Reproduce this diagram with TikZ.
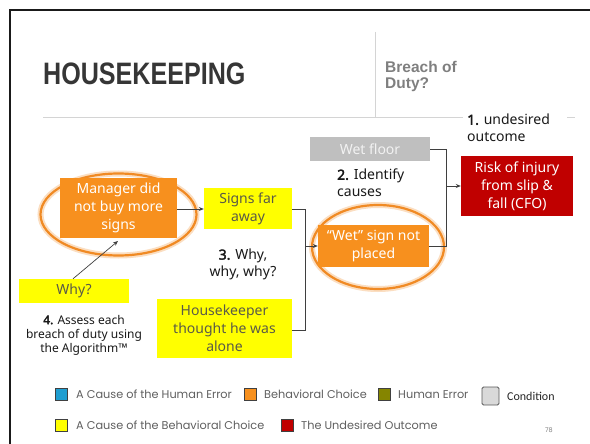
\documentclass[tikz,border=0pt]{standalone}
\usepackage{fontspec}
\setmainfont{Noto Sans}[AutoFakeBold=2.5]
\newfontfamily\headfont{Liberation Sans}
\newfontfamily\legendfont{Poppins}
\newfontfamily\condfont{Carlito}
\usetikzlibrary{arrows.meta}

\definecolor{frameblack}{HTML}{1A1A1A}
\definecolor{titlegray}{HTML}{363636}
\definecolor{subgray}{HTML}{7F7F7F}
\definecolor{rulegray}{HTML}{D4D4D4}
\definecolor{choiceorange}{HTML}{F7901E}
\definecolor{ringorange}{HTML}{F08A24}
\definecolor{causeyellow}{HTML}{FFFF00}
\definecolor{outcomered}{HTML}{C00000}
\definecolor{condgray}{HTML}{BFBFBF}
\definecolor{yellowtext}{HTML}{5A5A48}
\definecolor{linkgray}{HTML}{3F3F3F}
\definecolor{errblue}{HTML}{1F9ED1}
\definecolor{erolive}{HTML}{858500}
\definecolor{legendgray}{HTML}{D9D9D9}
\definecolor{legendtext}{HTML}{606060}

\tikzset{
  box/.style={rectangle, inner sep=0pt, align=center,
    font=\fontsize{14}{18}\selectfont},
  choice/.style={box, fill=choiceorange, text=white},
  cause/.style={box, fill=causeyellow, text=yellowtext},
  condition/.style={box, fill=condgray, text=white!95!black},
  outcome/.style={box, fill=outcomered, text=white},
  note/.style={inner sep=0pt, align=center, text=black!90,
    font=\fontsize{14}{17}\selectfont},
  ring/.style={draw=ringorange, line width=2.2pt},
  ringglow/.style={draw=ringorange!35, line width=6pt, opacity=0.8},
  link/.style={draw=linkgray, line width=0.7pt},
  arrowlink/.style={link, -{Stealth[length=5pt,width=4pt]}},
  swatch/.style={draw=black!75, line width=0.6pt},
  legendlabel/.style={anchor=west, inner sep=0pt, text=legendtext,
    font=\legendfont\fontsize{11.3}{13}\selectfont},
}

\begin{document}
\begin{tikzpicture}[x=1pt, y=-1pt]
\useasboundingbox (0,0) rectangle (590,444);
\fill[white] (0,0) rectangle (590,444);

% slide frame and header rules
\draw[frameblack, line width=2.6pt] (10,444) -- (10,10) -- (590,10);
\draw[rulegray, line width=0.8pt] (375,32) -- (375,117);
\draw[rulegray, line width=0.8pt] (43,117) -- (463,117);
\draw[rulegray, line width=0.8pt] (567,117) -- (575,117);

% header texts
\node[anchor=base west, inner sep=0pt, text=titlegray, xscale=0.81,
  font=\headfont\bfseries\fontsize{31}{31}\selectfont]
  (title) at (43,85) {HOUSEKEEPING};
\node[anchor=north west, inner sep=0pt, align=left, text=subgray,
  font=\headfont\bfseries\fontsize{15.5}{16}\selectfont]
  (subtitle) at (385,61) {Breach of\\Duty?};

% highlight rings
\draw[ringglow] (118.5,214.5) ellipse [x radius=78, y radius=41];
\draw[ring] (118.5,214.5) ellipse [x radius=78, y radius=41];
\draw[ringglow] (378,247) ellipse [x radius=66, y radius=42];
\draw[ring] (378,247) ellipse [x radius=66, y radius=42];

% boxes
\node[condition, minimum width=120, minimum height=24] (wetfloor) at (370,149) {Wet floor};
\node[outcome, minimum width=112, minimum height=60] (risk) at (517,186) {Risk of injury\\from slip \&\\fall (CFO)};
\node[choice, minimum width=111, minimum height=42] (wetsign) at (373.5,246) {“Wet” sign not\\placed};
\node[cause, minimum width=88, minimum height=41] (signs) at (248,208.5) {Signs far\\away};
\node[choice, minimum width=117, minimum height=60] (manager) at (118.5,208) {Manager did\\not buy more\\signs};
\node[cause, minimum width=110, minimum height=24] (why) at (74,291) {Why?};
\node[cause, minimum width=135, minimum height=59] (keeper) at (224.5,328.5) {Housekeeper\\thought he was\\alone};

% step notes
\node[note, anchor=west, align=left] (step1) at (467,128) {\textbf{1.} undesired\\outcome};
\node[note, anchor=west, align=left] (step2) at (337,183) {\textbf{2.} Identify\\causes};
\node[note] (step3) at (243,264.5) {\textbf{3.} Why,\\why, why?};
\node[note, font=\fontsize{12}{14}\selectfont] (step4) at (84,335) {\textbf{4.} Assess each\\breach of duty using\\the Algorithm™};

% junction points
\coordinate (jr) at (446,186);
\coordinate (jl) at (305,246);

% connectors
\draw[link] (wetfloor.east) -| (446,246) -- (wetsign.east);
\draw[arrowlink] (jr) -- (risk.west |- jr);
\draw[link] (signs.east |- 0,209) -| (305,330) -- (keeper.east |- 0,330);
\draw[arrowlink] (jl) -- (wetsign.west |- jl);
\draw[arrowlink] (manager.east |- 0,209) -- (signs.west |- 0,209);
\draw[arrowlink] (why.north -| 73,0) -- (118,241);

% legend
\draw[swatch, fill=errblue] (55,388.5) rectangle (67,400.5);
\node[legendlabel] (lg1) at (76,394.5) {A Cause of the Human Error};
\draw[swatch, fill=choiceorange] (244,388.5) rectangle (256,400.5);
\node[legendlabel] (lg2) at (264,394.5) {Behavioral Choice};
\draw[swatch, fill=erolive] (378,388.5) rectangle (390,400.5);
\node[legendlabel] (lg3) at (398,394.5) {Human Error};
\draw[draw=black!65, line width=0.8pt, fill=legendgray, rounded corners=1.5pt] (482,387) rectangle (499,405);
\node[anchor=west, inner sep=0pt, text=black!85, font=\condfont\fontsize{12}{14}\selectfont] (lg4) at (507,396) {Condition};
\draw[swatch, fill=causeyellow] (55,419.5) rectangle (67,431.5);
\node[legendlabel] (lg5) at (76,425.5) {A Cause of the Behavioral Choice};
\draw[swatch, fill=outcomered] (281,419.5) rectangle (293,431.5);
\node[legendlabel] (lg6) at (301,425.5) {The Undesired Outcome};
\node[inner sep=0pt, text=black!50, font=\legendfont\fontsize{6.5}{7}\selectfont] (page) at (549,430.5) {78};
\end{tikzpicture}
\end{document}
